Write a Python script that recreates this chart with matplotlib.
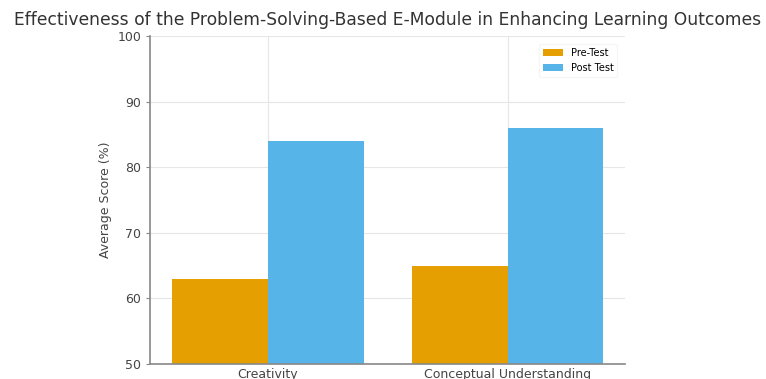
import matplotlib.pyplot as plt
import numpy as np

# average scores per aspect
categories = ['Creativity', 'Conceptual Understanding']
pre_test = [63, 65]
post_test = [84, 86]

fig = plt.figure(figsize=(7.66, 3.79), dpi=100)
ax = fig.add_axes([0.196, 0.0396, 0.62, 0.865])

x = np.arange(len(categories))
width = 0.4
ax.bar(x - width / 2, pre_test, width, label='Pre-Test', color='#E69F00')
ax.bar(x + width / 2, post_test, width, label='Post Test', color='#56B4E9')

ax.set_ylim(50, 100)
ax.set_xticks(x)
ax.set_xticklabels(categories, fontsize=9, color='#444444')
ax.tick_params(axis='y', labelsize=9, labelcolor='#444444', color='#888888', length=3)
ax.tick_params(axis='x', length=0, pad=3)
ax.set_ylabel('Average Score (%)', fontsize=9, color='#444444')
ax.set_title('Effectiveness of the Problem-Solving-Based E-Module in Enhancing Learning Outcomes',
             fontsize=12.3, color='#333333', pad=8)

ax.grid(True, color='#e6e6e6', linewidth=0.8)
ax.set_axisbelow(True)
for side in ['top', 'right']:
    ax.spines[side].set_visible(False)
for side in ['left', 'bottom']:
    ax.spines[side].set_color('#888888')
    ax.spines[side].set_linewidth(1.2)

ax.legend(loc='upper right', fontsize=7, frameon=True, edgecolor='#f4f4f4',
          borderaxespad=0.8)

fig.savefig('out.png', dpi=100)
